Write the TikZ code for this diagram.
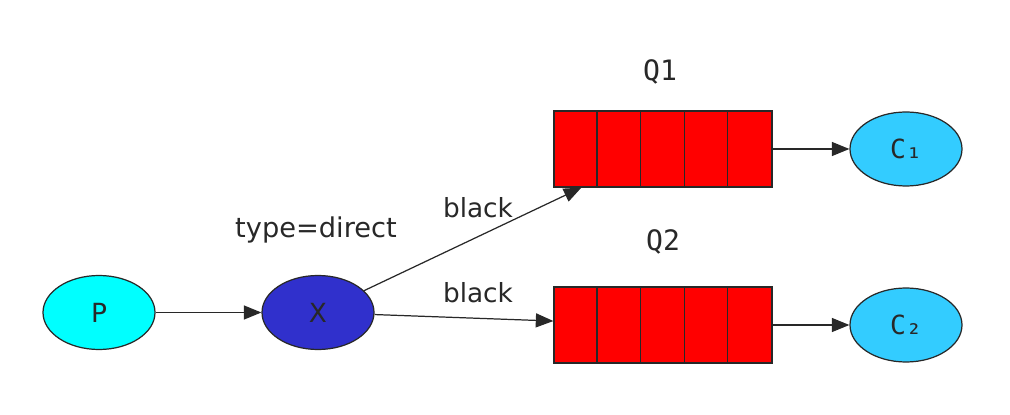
\documentclass[tikz,border=0pt]{standalone}
\usepackage{fontspec}
\setmainfont{DejaVu Sans}
\newfontfamily\monofont{DejaVu Sans Mono}
\usepackage{tikz}
\usetikzlibrary{arrows.meta, positioning, calc, shapes.geometric}
\definecolor{prodcyan}{RGB}{0, 255, 255}
\definecolor{exchblue}{RGB}{48, 48, 204}
\definecolor{conscyan}{RGB}{51, 204, 255}
\definecolor{queuered}{RGB}{255, 0, 0}
\definecolor{edgegray}{RGB}{40, 40, 40}

\begin{document}
\begin{tikzpicture}[
  every node/.style={font=\fontsize{15}{18}\selectfont, text=edgegray},
  agent/.style={ellipse, draw=edgegray, line width=0.7pt, minimum width=2.24cm, minimum height=1.48cm, inner sep=0pt},
  queuebox/.style={rectangle, draw=edgegray, line width=0.7pt, fill=queuered, minimum width=4.36cm, minimum height=1.52cm, inner sep=0pt},
  link/.style={-{Triangle[length=10pt, width=8pt]}, draw=edgegray, line width=0.7pt}
]
\useasboundingbox (0,0) rectangle (20.2,8.28);
% producer and exchange
\node[agent, fill=prodcyan] (p) at (1.98,2.03) {P};
\node[agent, fill=exchblue] (x) at (6.36,2.03) {X};
\node[font=\fontsize{15.5}{18}\selectfont] (xlabel) at (6.32,3.68) {type=direct};
% queues
\node[queuebox] (q1) at (13.26,5.30) {};
\node[queuebox] (q2) at (13.26,1.78) {};
\foreach \q in {q1, q2} {
  \foreach \i in {1,...,4}
    \draw[edgegray, line width=0.7pt] ($(\q.south west)+(\i*0.872,0)$) -- ($(\q.north west)+(\i*0.872,0)$);
}
\node[font=\monofont\fontsize{16}{18}\selectfont] (q1label) at (13.2,6.84) {Q1};
\node[font=\monofont\fontsize{16}{18}\selectfont] (q2label) at (13.26,3.44) {Q2};
% consumers
\node[agent, fill=conscyan, font=\monofont\fontsize{15}{18}\selectfont] (c1) at (18.12,5.30) {C₁};
\node[agent, fill=conscyan, font=\monofont\fontsize{15}{18}\selectfont] (c2) at (18.12,1.78) {C₂};
% bindings
\coordinate (q1in) at ($(q1.south west)+(0.56,0)$);
\draw[link] (p) -- (x);
\draw[link] (x) -- (q1in);
\draw[link] (x) -- (q2);
\draw[link] (q1) -- (c1);
\draw[link] (q2) -- (c2);
\node (key1) at (9.56,4.12) {black};
\node (key2) at (9.56,2.42) {black};
\end{tikzpicture}
\end{document}
